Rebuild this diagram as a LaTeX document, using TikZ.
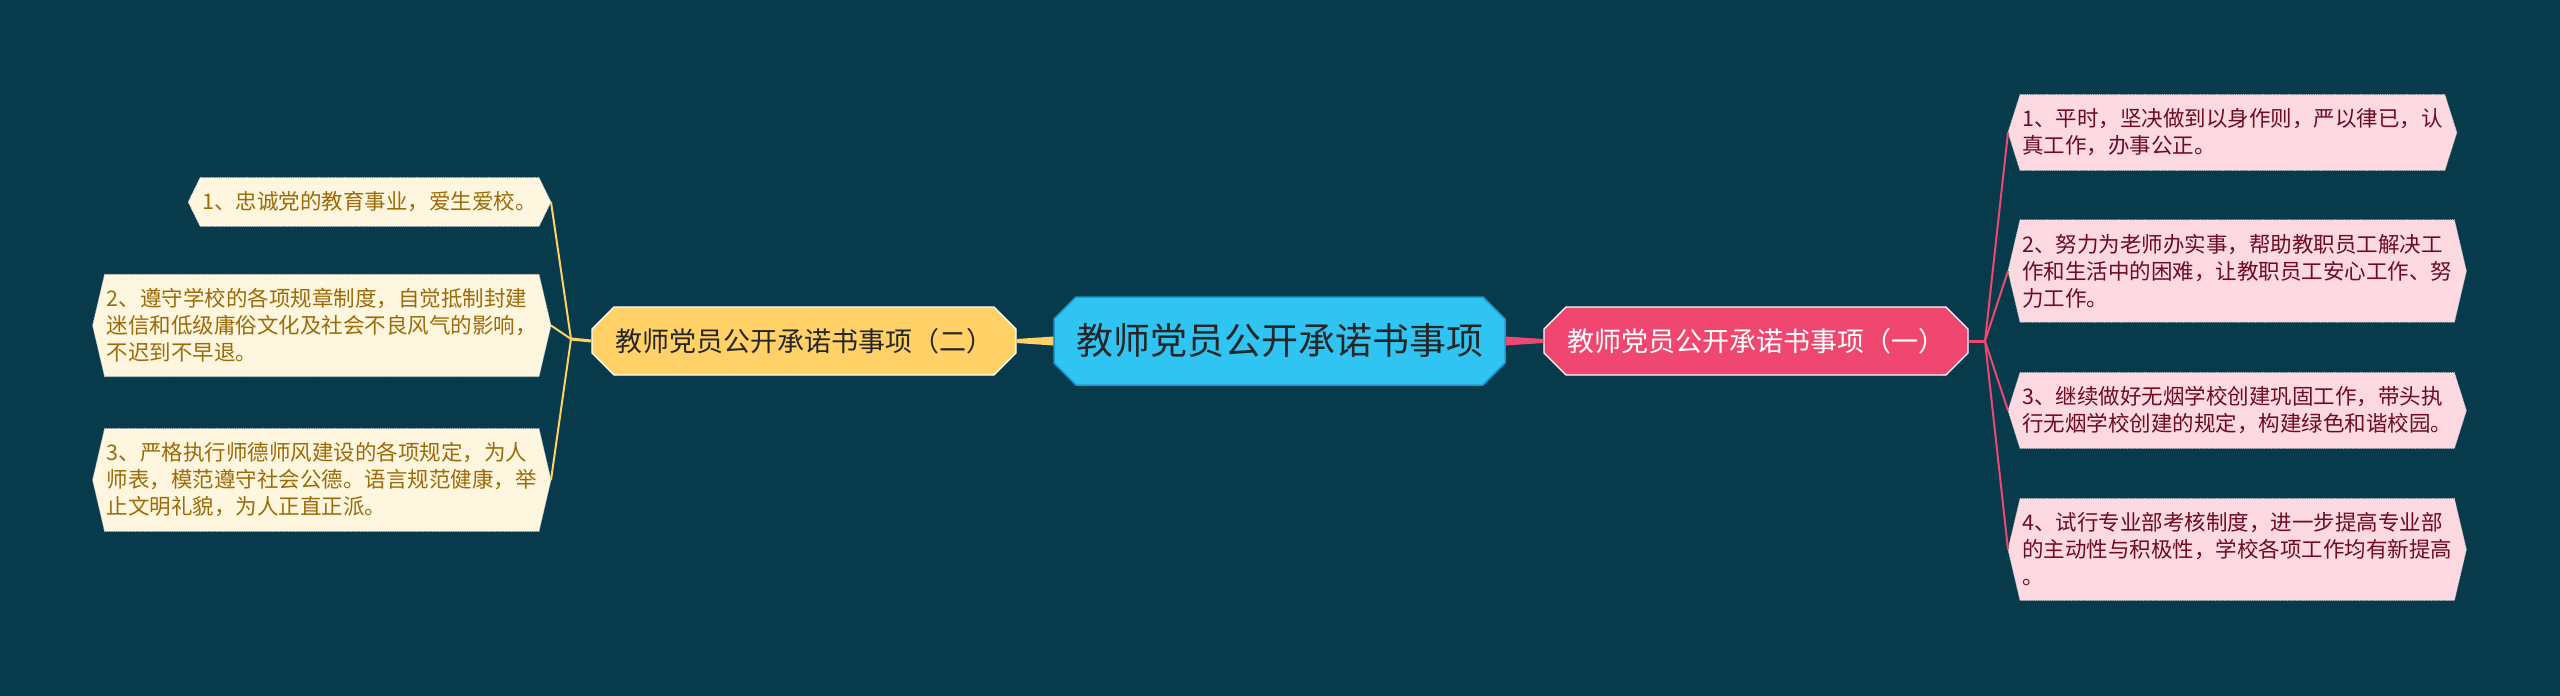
\documentclass[tikz,border=0pt]{standalone}
\usepackage{fontspec}
\newfontfamily\cjk{Noto Sans CJK SC}
\usetikzlibrary{shapes.misc}
\pgfdeclarelayer{back}
\pgfdeclarelayer{shapes}
\pgfsetlayers{back,shapes,main}
\definecolor{bgteal}{HTML}{073B4C}
\definecolor{rootblue}{HTML}{30C4F2}
\definecolor{rootedge}{HTML}{1E95D0}
\definecolor{pinkmain}{HTML}{EF476F}
\definecolor{yellowmain}{HTML}{FFD166}
\definecolor{creamleaf}{HTML}{FFF6DF}
\definecolor{creamtext}{HTML}{9C6B08}
\definecolor{pinkleaf}{HTML}{FDDAE1}
\definecolor{pinktext}{HTML}{6E0B22}

\begin{document}
\begin{tikzpicture}[x=1pt,y=-1pt,
		root/.style={chamfered rectangle, chamfered rectangle xsep=10pt, chamfered rectangle ysep=12pt,
			fill=rootblue, draw=rootedge, line width=1.5pt, minimum width=451pt, minimum height=88pt,
			inner sep=0pt, text=black!85, font={\cjk\fontsize{37}{44}\selectfont}},
		branch/.style={chamfered rectangle, chamfered rectangle xsep=10pt, chamfered rectangle ysep=12pt,
			draw=white, line width=1.2pt, minimum width=424pt, minimum height=68pt,
			inner sep=0pt, font={\cjk\fontsize{27}{32}\selectfont}},
		leaf/.style={rectangle, align=left, inner xsep=2pt, inner ysep=14pt,
			font={\cjk\fontsize{21.5}{27}\selectfont}},
		leafedge/.style={draw=white!80!black, line width=0.8pt, densely dotted},
		yline/.style={yellowmain, line width=2pt},
		pline/.style={pinkmain, line width=2pt}]
	\useasboundingbox (0,0) rectangle (2560,696);
	\begin{pgfonlayer}{back}
		\fill[bgteal] (0,0) rectangle (2560,696);
	\end{pgfonlayer}

	% main topic and the two branches
	\node[root] (root) at (1279.5,341) {教师党员公开承诺书事项};
	\node[branch, fill=yellowmain, text=black!85] (two) at (804,341) {教师党员公开承诺书事项（二）};
	\node[branch, fill=pinkmain, text=white] (one) at (1756,341) {教师党员公开承诺书事项（一）};

	% left leaves
	\node[leaf, text=creamtext, anchor=east] (l1) at (539,202) {1、忠诚党的教育事业，爱生爱校。};
	\node[leaf, text=creamtext, anchor=east] (l2) at (539,325.5) {2、遵守学校的各项规章制度，自觉抵制封建\\迷信和低级庸俗文化及社会不良风气的影响，\\不迟到不早退。};
	\node[leaf, text=creamtext, anchor=east] (l3) at (539,480) {3、严格执行师德师风建设的各项规定，为人\\师表，模范遵守社会公德。语言规范健康，举\\止文明礼貌，为人正直正派。};

	% right leaves
	\node[leaf, text=pinktext, anchor=west] (r1) at (2020,132.5) {1、平时，坚决做到以身作则，严以律已，认\\真工作，办事公正。};
	\node[leaf, text=pinktext, anchor=west] (r2) at (2020,271) {2、努力为老师办实事，帮助教职员工解决工\\作和生活中的困难，让教职员工安心工作、努\\力工作。};
	\node[leaf, text=pinktext, anchor=west] (r3) at (2020,410.5) {3、继续做好无烟学校创建巩固工作，带头执\\行无烟学校创建的规定，构建绿色和谐校园。};
	\node[leaf, text=pinktext, anchor=west] (r4) at (2020,549.5) {4、试行专业部考核制度，进一步提高专业部\\的主动性与积极性，学校各项工作均有新提高\\。};

	% hexagon boxes behind the leaf texts
	\begin{pgfonlayer}{shapes}
		\foreach \n/\c in {l1/creamleaf,l2/creamleaf,l3/creamleaf,r1/pinkleaf,r2/pinkleaf,r3/pinkleaf,r4/pinkleaf}
			\filldraw[fill=\c, leafedge] (\n.north west) -- (\n.north east) -- ([xshift=12pt]\n.east)
				-- (\n.south east) -- (\n.south west) -- ([xshift=-12pt]\n.west) -- cycle;
	\end{pgfonlayer}

	% tapered links from the main topic
	\fill[yellowmain] ([yshift=-2pt]two.east) -- ([yshift=-4.5pt]root.west) -- ([yshift=4.5pt]root.west) -- ([yshift=2pt]two.east) -- cycle;
	\fill[pinkmain] ([yshift=-4.5pt]root.east) -- ([yshift=-2pt]one.west) -- ([yshift=2pt]one.west) -- ([yshift=4.5pt]root.east) -- cycle;

	% fans to the leaves
	\coordinate (jl) at (571,339);
	\coordinate (jr) at (1985,341);
	\draw[yline, line width=3pt] (two.west) -- (jl);
	\foreach \n in {l1,l2,l3}
		\draw[yline] (jl) -- ([xshift=12pt]\n.east);
	\draw[pline, line width=3pt] (one.east) -- (jr);
	\foreach \n in {r1,r2,r3,r4}
		\draw[pline] (jr) -- ([xshift=-12pt]\n.west);
\end{tikzpicture}
\end{document}
